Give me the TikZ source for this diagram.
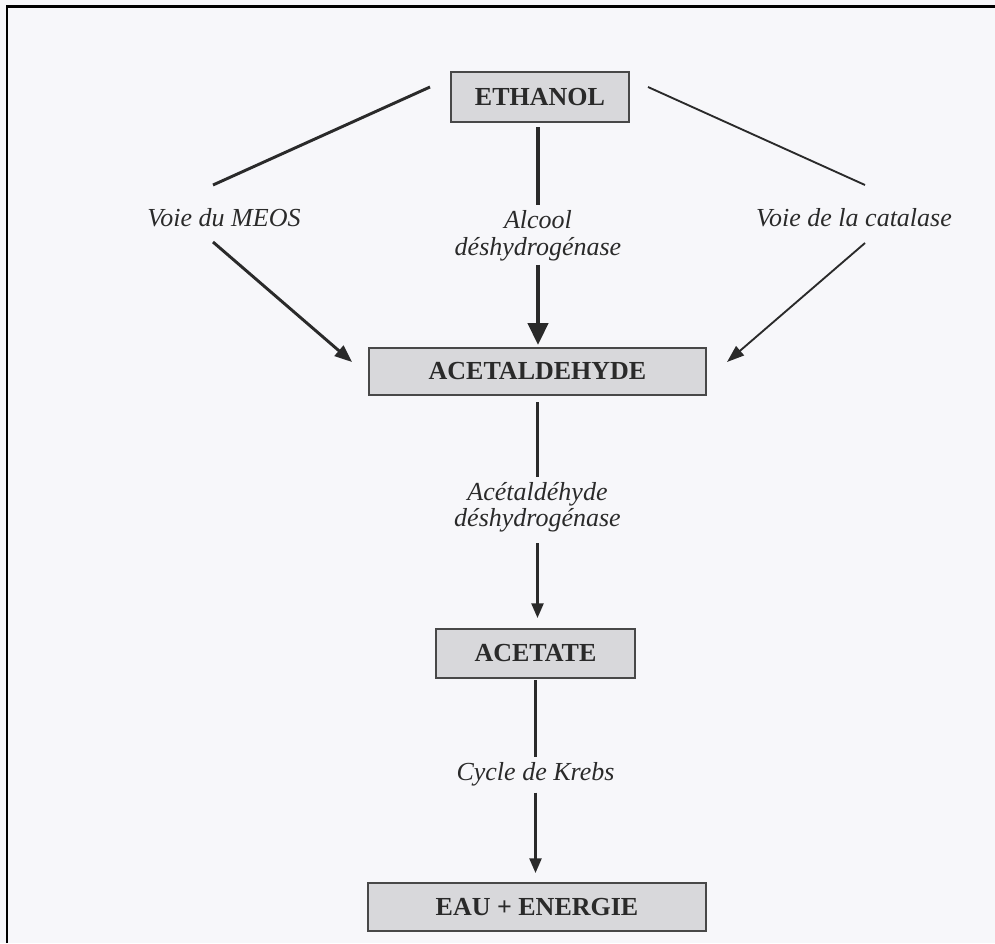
\documentclass[tikz,border=0pt]{standalone}
\usepackage{fontspec}
\setmainfont{Liberation Serif}
\usetikzlibrary{arrows.meta,calc}
\definecolor{bg}{HTML}{F7F7FA}
\definecolor{boxfill}{HTML}{D8D8DB}
\definecolor{boxline}{HTML}{484848}
\definecolor{ink}{HTML}{2A2A2A}
\begin{document}
\begin{tikzpicture}[x=0.75pt,y=-0.75pt,
  box/.style={draw=boxline,line width=1.5pt,fill=boxfill,inner sep=0pt,outer sep=0pt,
    font=\fontsize{19.5}{23}\selectfont\bfseries,text=ink},
  lab/.style={inner sep=0pt,outer sep=0pt,font=\fontsize{19.5}{20.25}\selectfont\itshape,
    text=ink,align=center},
  thickc/.style={draw=ink,line width=3.4pt},
  conn/.style={draw=ink,line width=1.8pt},
  meosline/.style={draw=ink,line width=2.2pt},
  catline/.style={draw=ink,line width=1.4pt}
]
\fill[bg] (0,0) rectangle (995,943);
\useasboundingbox (0,0) rectangle (995,943);
\draw[black,line width=1.9pt] (7,943) -- (7,6.5) -- (995,6.5);

% boxes
\node[box,minimum width=133.5pt,minimum height=37.5pt] (eth) at (540,97) {ETHANOL};
\node[box,minimum width=252.75pt,minimum height=35.25pt] (acet) at (537.5,371.5) {ACETALDEHYDE};
\node[box,minimum width=149.25pt,minimum height=36.75pt] (acetate) at (535.5,653.5) {ACETATE};
\node[box,minimum width=253.5pt,minimum height=36pt] (eau) at (537,907) {EAU + ENERGIE};

% labels
\node[lab,anchor=base] (meos) at (224,226) {Voie du MEOS};
\node[lab,anchor=base] (cat) at (854,226) {Voie de la catalase};
\node[lab] (alc) at (538,235.5) {Alcool\\déshydrogénase};
\node[lab] (ald) at (537.5,507) {Acétaldéhyde\\[-0.5pt]déshydrogénase};
\node[lab,anchor=base] (krebs) at (535.5,780) {Cycle de Krebs};

% central chain
\draw[thickc,shorten <=3.75pt,shorten >=3.75pt] (alc |- eth.south) -- (alc.north);
\draw[thickc,-{Triangle[length=16.5pt,width=15pt]},shorten <=3pt,shorten >=2.25pt]
  (alc.south) -- (alc.south |- acet.north);
\draw[conn,shorten <=5.25pt,shorten >=3.75pt] (acet.south -| ald) -- (ald.north);
\draw[conn,-{Triangle[length=11pt,width=9pt]},shorten <=8.25pt,shorten >=8.25pt]
  (ald.south) -- (ald.south |- acetate.north);
\draw[conn,shorten <=1.5pt,shorten >=3.75pt] (acetate.south) -- (krebs.north);
\draw[conn,-{Triangle[length=11pt,width=9pt]},shorten <=5.25pt,shorten >=7.5pt]
  (krebs.south) -- (krebs.south |- eau.north);

% side paths
\coordinate (m1) at (430,87);
\coordinate (m2) at (213,185);
\coordinate (m3) at (213,242);
\coordinate (m4) at (352,362);
\coordinate (c1) at (648,87);
\coordinate (c2) at (865,185);
\coordinate (c3) at (865,243);
\coordinate (c4) at (727,362);
\draw[meosline] (m1) -- (m2);
\draw[meosline,-{Triangle[length=13pt,width=10pt]}] (m3) -- (m4);
\draw[catline] (c1) -- (c2);
\draw[catline,-{Triangle[length=13pt,width=9pt]}] (c3) -- (c4);
\end{tikzpicture}
\end{document}
